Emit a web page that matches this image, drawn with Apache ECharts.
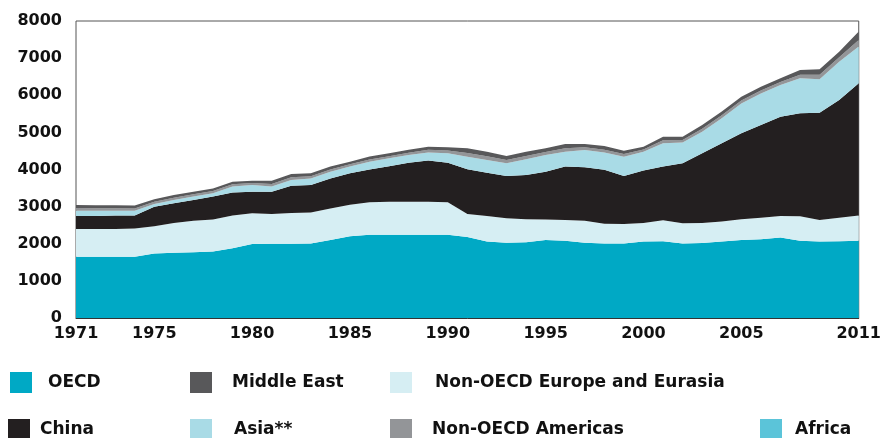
<!DOCTYPE html>
<html>
<head>
<meta charset="utf-8">
<script src="https://cdn.jsdelivr.net/npm/echarts@6/dist/echarts.min.js"></script>
<style>
  html, body { margin: 0; padding: 0; background: #fff; }
  #chart { width: 884px; height: 438px; }
</style>
</head>
<body>
<div id="chart"></div>
<script>
// coal production by region, Mt
var years = []
for (var y = 1971; y <= 2011; y++) years.push(String(y))
var tickYears = ['1971', '1975', '1980', '1985', '1990', '1995', '2000', '2005', '2011']

var oecd = [1650, 1650, 1650, 1650, 1740, 1760, 1770, 1790, 1880, 1990,
  2000, 2000, 2010, 2100, 2200, 2240, 2240, 2240, 2240, 2240,
  2180, 2060, 2030, 2040, 2100, 2080, 2030, 2010, 2010, 2060,
  2070, 2010, 2020, 2060, 2100, 2120, 2170, 2080, 2060, 2070, 2080]
var nonOecdEurope = [750, 750, 750, 760, 730, 800, 850, 860, 880, 830,
  800, 830, 830, 850, 850, 880, 890, 890, 890, 880,
  620, 690, 660, 620, 550, 560, 590, 530, 520, 500,
  560, 540, 540, 540, 560, 580, 580, 660, 580, 630, 680]
var china = [350, 350, 360, 350, 530, 530, 560, 620, 620, 580,
  600, 730, 740, 810, 850, 880, 960, 1050, 1110, 1060,
  1205, 1165, 1135, 1190, 1290, 1440, 1440, 1450, 1295, 1410,
  1450, 1615, 1875, 2105, 2315, 2500, 2670, 2775, 2890, 3170, 3560]
var asia = [140, 140, 130, 130, 70, 90, 90, 90, 160, 180,
  140, 160, 180, 180, 180, 210, 210, 210, 220, 260,
  340, 340, 340, 425, 450, 400, 465, 465, 520, 510,
  625, 560, 585, 675, 805, 850, 855, 940, 900, 1035, 990]
var nonOecdAmericas = [70, 65, 65, 60, 60, 60, 60, 60, 60, 55,
  70, 70, 60, 60, 60, 60, 60, 60, 70, 70,
  100, 100, 90, 90, 80, 95, 75, 80, 70, 60,
  80, 70, 80, 80, 80, 80, 80, 100, 120, 120, 180]
var middleEast = [85, 85, 85, 80, 70, 75, 70, 70, 70, 65,
  90, 90, 80, 80, 70, 80, 80, 80, 80, 90,
  125, 125, 110, 115, 100, 115, 90, 100, 90, 75,
  100, 90, 100, 100, 100, 100, 100, 125, 150, 150, 225]
var africa = [0, 0, 0, 0, 0, 0, 0, 0, 0, 0,
  0, 0, 0, 0, 0, 0, 0, 0, 0, 0,
  0, 0, 0, 0, 0, 0, 0, 0, 0, 0,
  0, 0, 0, 0, 0, 0, 0, 0, 0, 0, 0]

var names = ['OECD', 'Non-OECD Europe and Eurasia', 'China', 'Asia**', 'Non-OECD Americas', 'Middle East', 'Africa']
var colors = ['#00a9c5', '#d6eef3', '#231f20', '#a9dbe6', '#939598', '#58585a', '#5bc4d9']
var values = [oecd, nonOecdEurope, china, asia, nonOecdAmericas, middleEast, africa]

// legend layout: [name, left, top]
var legendPos = [
  ['OECD', 10, 372],
  ['Middle East', 190, 372],
  ['Non-OECD Europe and Eurasia', 390, 372],
  ['China', 8, 419],
  ['Asia**', 190, 419],
  ['Non-OECD Americas', 390, 419],
  ['Africa', 760, 419]
]
var textPad = { 'OECD': 11, 'Middle East': 15, 'Non-OECD Europe and Eurasia': 18, 'China': 5, 'Asia**': 17, 'Non-OECD Americas': 15, 'Africa': 8 }

var series = names.map(function(n, i) {
  return {
    name: n,
    type: 'line',
    stack: 'total',
    data: values[i],
    showSymbol: false,
    symbol: 'none',
    lineStyle: { width: 0 },
    itemStyle: { color: colors[i] },
    areaStyle: { color: colors[i], opacity: 1 },
    animation: false
  }
})

var legends = legendPos.map(function(p) {
  return {
    data: [p[0]],
    left: p[1],
    top: p[2],
    padding: 0,
    icon: 'rect',
    itemWidth: 22,
    itemHeight: 21,
    selectedMode: false,
    textStyle: {
      fontFamily: 'DejaVu Sans',
      fontWeight: 'bold',
      fontSize: 17,
      color: '#111',
      padding: [0, 0, 0, textPad[p[0]]]
    }
  }
})

var chart = echarts.init(document.getElementById('chart'))
chart.setOption({
  backgroundColor: '#fff',
  animation: false,
  grid: {
    left: 76, right: 22, top: 21, bottom: 120,
    show: true, borderColor: '#555', borderWidth: 1
  },
  legend: legends,
  xAxis: {
    type: 'category',
    data: years,
    boundaryGap: false,
    axisLine: { show: true, lineStyle: { color: '#333', width: 1 } },
    axisTick: { show: false },
    axisLabel: {
      interval: function(idx, val) { return tickYears.indexOf(val) >= 0 },
      fontFamily: 'DejaVu Sans',
      fontWeight: 'bold',
      fontSize: 16,
      color: '#111',
      margin: 8
    },
    splitLine: { show: false }
  },
  yAxis: {
    type: 'value',
    min: 0,
    max: 8000,
    interval: 1000,
    axisLine: { show: false },
    axisTick: { show: false },
    splitLine: { show: false },
    axisLabel: {
      formatter: function(v) { return String(v) },
      fontFamily: 'DejaVu Sans',
      fontWeight: 'bold',
      fontSize: 16,
      color: '#111',
      margin: 14
    }
  },
  series: series
})
</script>
</body>
</html>
